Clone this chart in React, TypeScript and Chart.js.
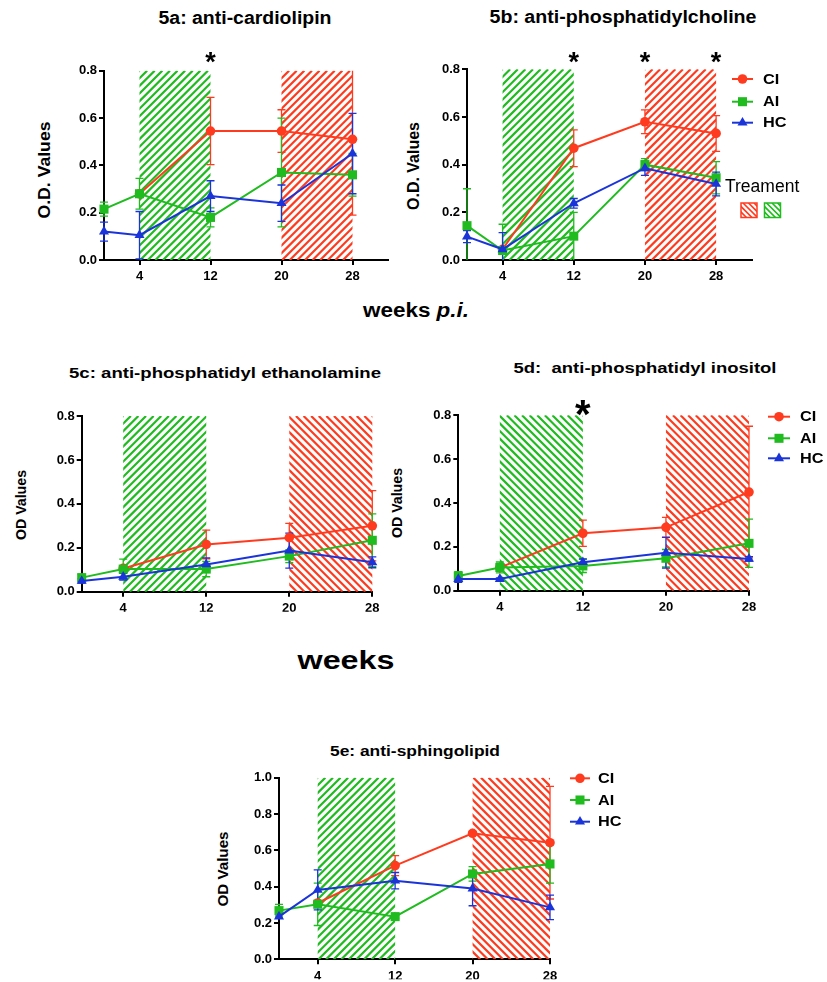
import React, { useEffect, useRef } from 'react';
import { Chart, registerables } from 'chart.js';
Chart.register(...registerables);

const W = 827;
const H = 982;
const FONT = '"Liberation Sans", Arial, Helvetica, sans-serif';
const RED = '#ff3b1f';
const GREEN = '#1fbb1f';
const BLUE = '#1a34d9';
const YW = 40; // y-axis box width
const XH = 20; // x-axis box height

// ---- data ----
const weeks = [0, 4, 12, 20, 28];
const weekTicks = [4, 12, 20, 28];
const seriesNames = ['CI', 'AI', 'HC'];

// 5a anti-cardiolipin
const cardiolipinCI = [null, 0.28, 0.545, 0.545, 0.51];
const cardiolipinCIErr = [0, 0, 0.142, 0.09, 0.32];
const cardiolipinAI = [0.215, 0.28, 0.18, 0.37, 0.36];
const cardiolipinAIErr = [0.03, 0.065, 0.04, 0.23, 0.09];
const cardiolipinHC = [0.12, 0.105, 0.27, 0.24, 0.45];
const cardiolipinHCErr = [0.04, 0.1, 0.065, 0.077, 0.17];

// 5b anti-phosphatidylcholine
const pcCI = [null, 0.045, 0.469, 0.58, 0.531];
const pcCIErr = [0, 0, 0.077, 0.05, 0.075];
const pcAI = [0.144, 0.04, 0.1, 0.4, 0.345];
const pcAIErr = [0.155, 0.11, 0.1, 0.025, 0.068];
const pcHC = [0.098, 0.045, 0.238, 0.385, 0.319];
const pcHCErr = [0.025, 0.07, 0.02, 0.03, 0.05];

// 5c anti-phosphatidyl ethanolamine
const peCI = [null, 0.106, 0.215, 0.246, 0.3];
const peCIErr = [0, 0, 0.065, 0.065, 0.16];
const peAI = [0.064, 0.103, 0.103, 0.162, 0.234];
const peAIErr = [0.015, 0.045, 0.035, 0.03, 0.12];
const peHC = [0.049, 0.068, 0.124, 0.187, 0.134];
const peHCErr = [0.01, 0.015, 0.03, 0.08, 0.025];

// 5d anti-phosphatidyl inositol
const piCI = [null, 0.105, 0.262, 0.289, 0.45];
const piCIErr = [0, 0, 0.06, 0.045, 0.3];
const piAI = [0.067, 0.106, 0.113, 0.148, 0.216];
const piAIErr = [0.02, 0.025, 0.03, 0.04, 0.11];
const piHC = [0.053, 0.053, 0.13, 0.173, 0.145];
const piHCErr = [0.015, 0.005, 0.015, 0.07, 0.01];

// 5e anti-sphingolipid
const spCI = [null, 0.31, 0.516, 0.694, 0.642];
const spCIErr = [0, 0, 0.055, 0.01, 0.31];
const spAI = [0.268, 0.303, 0.235, 0.47, 0.525];
const spAIErr = [0.035, 0.117, 0.01, 0.04, 0.105];
const spHC = [0.235, 0.382, 0.433, 0.39, 0.286];
const spHCErr = [0.01, 0.11, 0.045, 0.095, 0.067];

type Hatch = { from: number; to: number; color: string; dir: '/' | '\\' };
type Panel = {
  id: string;
  area: { left: number; top: number; right: number; bottom: number };
  xMax: number;
  yMax: number;
  values: (number | null)[][];
  errs: number[][];
  hatches: Hatch[];
  stars: number[];
  starY: number;
  starSize: number;
  legend?: { x0: number; x1: number; tx: number; rows: number[]; size: number; sx: number };
  treatment?: boolean;
};

const panels: Panel[] = [
  {
    id: 'a', area: { left: 104, top: 70.7, right: 388, bottom: 260 }, xMax: 32, yMax: 0.8,
    values: [cardiolipinCI, cardiolipinAI, cardiolipinHC], errs: [cardiolipinCIErr, cardiolipinAIErr, cardiolipinHCErr],
    hatches: [{ from: 4, to: 12, color: GREEN, dir: '/' }, { from: 20, to: 28, color: RED, dir: '/' }],
    stars: [12], starY: 57, starSize: 27,
  },
  {
    id: 'b', area: { left: 467, top: 69.3, right: 751.7, bottom: 260 }, xMax: 32, yMax: 0.8,
    values: [pcCI, pcAI, pcHC], errs: [pcCIErr, pcAIErr, pcHCErr],
    hatches: [{ from: 4, to: 12, color: GREEN, dir: '/' }, { from: 20, to: 28, color: RED, dir: '/' }],
    stars: [12, 20, 28], starY: 57, starSize: 27,
    legend: { x0: 732, x1: 753, tx: 763, rows: [79, 101.7, 122.7], size: 15.5, sx: 1.05 },
    treatment: true,
  },
  {
    id: 'c', area: { left: 81.7, top: 416, right: 372.3, bottom: 591.7 }, xMax: 28, yMax: 0.8,
    values: [peCI, peAI, peHC], errs: [peCIErr, peAIErr, peHCErr],
    hatches: [{ from: 4, to: 12, color: GREEN, dir: '/' }, { from: 20, to: 28, color: RED, dir: '\\' }],
    stars: [], starY: 0, starSize: 0,
  },
  {
    id: 'd', area: { left: 458.3, top: 415.3, right: 749, bottom: 590.7 }, xMax: 28, yMax: 0.8,
    values: [piCI, piAI, piHC], errs: [piCIErr, piAIErr, piHCErr],
    hatches: [{ from: 4, to: 12, color: GREEN, dir: '\\' }, { from: 20, to: 28, color: RED, dir: '\\' }],
    stars: [12], starY: 408, starSize: 40,
    legend: { x0: 768, x1: 790, tx: 800, rows: [416.7, 438.3, 458.3], size: 15.5, sx: 1.05 },
  },
  {
    id: 'e', area: { left: 279, top: 777.7, right: 550, bottom: 959.3 }, xMax: 28, yMax: 1.0,
    values: [spCI, spAI, spHC], errs: [spCIErr, spAIErr, spHCErr],
    hatches: [{ from: 4, to: 12, color: GREEN, dir: '/' }, { from: 20, to: 28, color: RED, dir: '\\' }],
    stars: [], starY: 0, starSize: 0,
    legend: { x0: 570, x1: 590, tx: 598, rows: [778.3, 800, 821.7], size: 15.5, sx: 1.05 },
  },
];

const seriesColors = [RED, GREEN, BLUE];
const seriesStyles = ['circle', 'rect', 'triangle'];
const seriesRadius = [4.8, 6.4, 5.8];

function hatchRect(ctx: CanvasRenderingContext2D, x0: number, y0: number, x1: number, y1: number, color: string, dir: string, step: number, lw: number) {
  ctx.save();
  ctx.beginPath();
  ctx.rect(x0, y0, x1 - x0, y1 - y0);
  ctx.clip();
  ctx.strokeStyle = color;
  ctx.lineWidth = lw;
  const h = y1 - y0;
  ctx.beginPath();
  for (let s = x0 - h - step; s <= x1 + step; s += step) {
    if (dir === '/') {
      ctx.moveTo(s, y1);
      ctx.lineTo(s + h, y0);
    } else {
      ctx.moveTo(s, y0);
      ctx.lineTo(s + h, y1);
    }
  }
  ctx.stroke();
  ctx.restore();
}

function drawMarker(ctx: CanvasRenderingContext2D, style: string, x: number, y: number, r: number, color: string) {
  ctx.fillStyle = color;
  ctx.beginPath();
  if (style === 'circle') ctx.arc(x, y, r, 0, Math.PI * 2);
  else if (style === 'rect') {
    const s = r * Math.SQRT1_2;
    ctx.rect(x - s, y - s, 2 * s, 2 * s);
  } else {
    ctx.moveTo(x, y - r);
    ctx.lineTo(x + r * 0.866, y + r * 0.5);
    ctx.lineTo(x - r * 0.866, y + r * 0.5);
    ctx.closePath();
  }
  ctx.fill();
}

function makePanelPlugin(p: Panel) {
  return {
    id: 'panel_' + p.id,
    beforeDatasetsDraw(chart: any) {
      const { ctx, chartArea: a, scales } = chart;
      const xs = scales.x;
      const ys = scales.y;
      for (const h of p.hatches) {
        hatchRect(ctx, xs.getPixelForValue(h.from), a.top, xs.getPixelForValue(h.to), a.bottom, h.color, h.dir, 7.6, 2.2);
      }
      ctx.save();
      ctx.beginPath();
      ctx.rect(a.left - 30, a.top, a.right - a.left + 60, a.bottom - a.top + 1);
      ctx.clip();
      chart.data.datasets.forEach((ds: any, i: number) => {
        const meta = chart.getDatasetMeta(i);
        const errs: number[] = ds.errs;
        ctx.strokeStyle = ds.borderColor;
        ctx.lineWidth = 1.3;
        meta.data.forEach((pt: any, j: number) => {
          const v = ds.data[j].y;
          const e = errs[j];
          if (v == null || !e) return;
          const x = pt.x;
          const yt = ys.getPixelForValue(v + e);
          const yb = ys.getPixelForValue(Math.max(v - e, 0));
          ctx.beginPath();
          ctx.moveTo(x, yt);
          ctx.lineTo(x, yb);
          ctx.moveTo(x - 4, yt);
          ctx.lineTo(x + 4, yt);
          if (v - e > 0) {
            ctx.moveTo(x - 4, yb);
            ctx.lineTo(x + 4, yb);
          }
          ctx.stroke();
        });
      });
      ctx.restore();
    },
    afterDraw(chart: any) {
      const { ctx, scales } = chart;
      const xs = scales.x;
      ctx.save();
      if (p.stars.length) {
        ctx.font = `bold ${p.starSize}px ${FONT}`;
        ctx.fillStyle = '#000';
        ctx.textAlign = 'center';
        ctx.textBaseline = 'alphabetic';
        const m = ctx.measureText('*');
        const base = p.starY + (m.actualBoundingBoxAscent - m.actualBoundingBoxDescent) / 2;
        for (const wk of p.stars) ctx.fillText('*', xs.getPixelForValue(wk), base);
      }
      if (p.legend) {
        const L = p.legend;
        L.rows.forEach((ry, i) => {
          ctx.strokeStyle = seriesColors[i];
          ctx.lineWidth = 2;
          ctx.beginPath();
          ctx.moveTo(L.x0, ry);
          ctx.lineTo(L.x1, ry);
          ctx.stroke();
          drawMarker(ctx, seriesStyles[i], (L.x0 + L.x1) / 2, ry, seriesRadius[i], seriesColors[i]);
          ctx.save();
          ctx.font = `bold ${L.size}px ${FONT}`;
          ctx.fillStyle = '#000';
          ctx.textAlign = 'left';
          ctx.textBaseline = 'middle';
          ctx.translate(L.tx, ry + 0.5);
          ctx.scale(L.sx, 1);
          ctx.fillText(seriesNames[i], 0, 0);
          ctx.restore();
        });
      }
      if (p.treatment) {
        ctx.font = `17.5px ${FONT}`;
        ctx.fillStyle = '#000';
        ctx.textAlign = 'left';
        ctx.textBaseline = 'middle';
        ctx.fillText('Treament', 725, 187);
        const boxes = [
          { x: 741, color: RED },
          { x: 764.5, color: GREEN },
        ];
        for (const b of boxes) {
          hatchRect(ctx, b.x, 203, b.x + 16, 217.5, b.color, '\\', 5.5, 1.6);
          ctx.strokeStyle = b.color;
          ctx.lineWidth = 1.5;
          ctx.strokeRect(b.x, 203, 16, 14.5);
        }
      }
      ctx.restore();
    },
  };
}

function makeConfig(p: Panel): any {
  const datasets = p.values.map((vals, i) => ({
    label: seriesNames[i],
    data: weeks.map((w, j) => ({ x: w, y: vals[j] })),
    errs: p.errs[i],
    borderColor: seriesColors[i],
    backgroundColor: seriesColors[i],
    borderWidth: 2,
    pointStyle: seriesStyles[i],
    pointRadius: seriesRadius[i],
    pointBorderWidth: 0,
    pointHoverRadius: seriesRadius[i],
    order: 3 - i,
    clip: false,
    tension: 0,
  }));
  const tickFont = { family: FONT, size: 13, weight: 'bold' as const };
  const grid = { display: true, drawOnChartArea: false, drawTicks: true, tickLength: 5, color: '#000', lineWidth: 2 };
  const border = { display: true, color: '#000', width: 2 };
  return {
    type: 'line',
    data: { datasets },
    options: {
      animation: false,
      responsive: false,
      maintainAspectRatio: false,
      events: [],
      layout: {
        padding: {
          left: p.area.left - YW,
          right: W - p.area.right,
          top: p.area.top,
          bottom: H - p.area.bottom - XH,
        },
      },
      plugins: { legend: { display: false }, tooltip: { enabled: false }, title: { display: false } },
      scales: {
        x: {
          type: 'linear',
          min: 0,
          max: p.xMax,
          afterBuildTicks: (s: any) => {
            s.ticks = weekTicks.map((v) => ({ value: v }));
          },
          afterFit: (s: any) => {
            s.height = XH;
          },
          ticks: { font: tickFont, color: '#000', padding: 4, autoSkip: false, maxRotation: 0, callback: (v: any) => String(v) },
          grid,
          border,
        },
        y: {
          type: 'linear',
          min: 0,
          max: p.yMax,
          afterFit: (s: any) => {
            s.width = YW;
          },
          ticks: { font: tickFont, color: '#000', padding: 2, stepSize: 0.2, callback: (v: any) => Number(v).toFixed(1) },
          grid,
          border,
        },
      },
    },
    plugins: [makePanelPlugin(p)],
  };
}

function PanelCanvas({ panel }: { panel: Panel }) {
  const ref = useRef<HTMLCanvasElement>(null);
  useEffect(() => {
    if (!ref.current) return;
    const chart = new Chart(ref.current, makeConfig(panel));
    return () => chart.destroy();
  }, [panel]);
  return (
    <canvas
      ref={ref}
      width={W}
      height={H}
      style={{ position: 'absolute', left: 0, top: 0, width: W, height: H, pointerEvents: 'none' }}
    />
  );
}

let measureCtx: CanvasRenderingContext2D | null = null;
function measure(text: string, font: string) {
  if (!measureCtx) measureCtx = document.createElement('canvas').getContext('2d');
  if (!measureCtx) return text.length * 8;
  measureCtx.font = font;
  return measureCtx.measureText(text).width;
}

type LabelProps = {
  text: string;
  italic?: string;
  cx: number;
  cy: number;
  size: number;
  bold?: boolean;
  width?: number;
  rotate?: boolean;
};

function TextLabel({ text, italic, cx, cy, size, bold = true, width, rotate }: LabelProps) {
  const fw = bold ? 'bold' : 'normal';
  let w = measure(text, `${fw} ${size}px ${FONT}`);
  if (italic) w += measure(italic, `italic ${fw} ${size}px ${FONT}`);
  const sx = width ? width / w : 1;
  return (
    <div
      style={{
        position: 'absolute',
        left: cx,
        top: cy,
        transform: `translate(-50%, -50%) ${rotate ? 'rotate(-90deg) ' : ''}scaleX(${sx})`,
        fontFamily: FONT,
        fontWeight: fw as any,
        fontSize: size,
        lineHeight: 1.15,
        whiteSpace: 'pre',
        color: '#000',
      }}
    >
      {text}
      {italic ? <i>{italic}</i> : null}
    </div>
  );
}

export default function App() {
  return (
    <div style={{ position: 'absolute', left: 0, top: 0, width: W, height: H, background: '#fff', overflow: 'hidden' }}>
      <TextLabel text="5a: anti-cardiolipin" cx={245} cy={18} size={17.5} width={173} />
      <TextLabel text="5b: anti-phosphatidylcholine" cx={623} cy={17} size={17.5} width={267} />
      <TextLabel text="5c: anti-phosphatidyl ethanolamine" cx={225} cy={373} size={15.5} width={312} />
      <TextLabel text="5d:  anti-phosphatidyl inositol" cx={645} cy={368} size={15.5} width={263} />
      <TextLabel text="5e: anti-sphingolipid" cx={415} cy={751} size={15.5} width={170} />
      <TextLabel text="O.D. Values" cx={44} cy={170} size={16.5} width={97} rotate />
      <TextLabel text="O.D. Values" cx={413} cy={166} size={16.5} width={88} rotate />
      <TextLabel text="OD Values" cx={21} cy={505} size={15} width={70} rotate />
      <TextLabel text="OD Values" cx={397} cy={503} size={15} width={70} rotate />
      <TextLabel text="OD Values" cx={223} cy={869} size={15.5} width={75} rotate />
      <TextLabel text="weeks " italic="p.i." cx={416} cy={310} size={20} width={106} />
      <TextLabel text="weeks" cx={346} cy={660} size={25} width={97} />
      {panels.map((p) => (
        <PanelCanvas key={p.id} panel={p} />
      ))}
    </div>
  );
}
